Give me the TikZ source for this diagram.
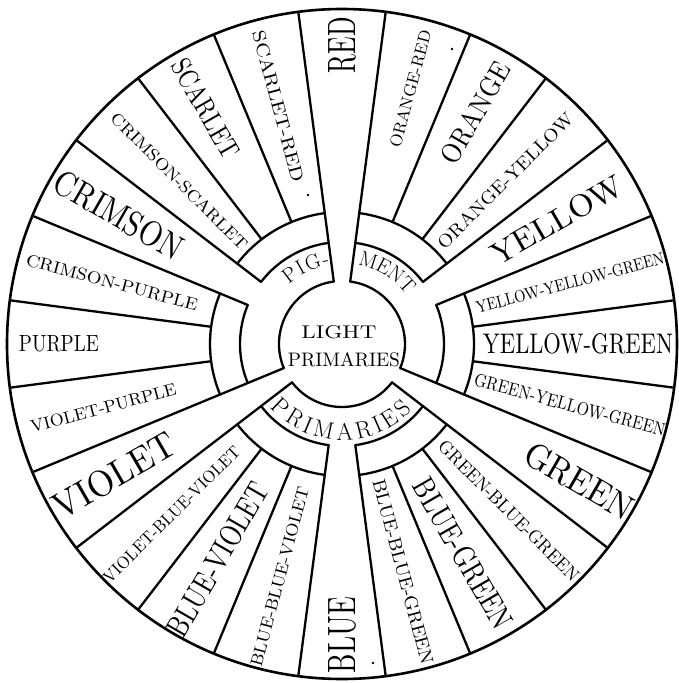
\documentclass[tikz,border=0pt]{standalone}
\usepackage{fontspec}
\usepackage{graphicx}
\newcommand{\seglabel}[7]{\node[lab, rotate=#4] (#1) at (#2:#3pt) {\resizebox{#5pt}{#6pt}{#7}};}
\begin{document}
\begin{tikzpicture}[
  ln/.style={line width=2.3pt, line cap=round, black},
  lab/.style={inner sep=0pt, anchor=center},
  lt/.style={inner sep=0pt, anchor=center, font=\fontsize{21}{21}\selectfont},
  ltb/.style={inner sep=0pt, anchor=center, font=\fontsize{24}{24}\selectfont}]
\useasboundingbox (-342pt,-339pt) rectangle (337pt,344pt);
\fill[white] (-342pt,-339pt) rectangle (337pt,344pt);
% outer circle
\draw[ln, line width=2.6pt] (0,0) circle (335pt);
% light primary wedges (red, green, violet)
\foreach \a in {82.5,97.5,322.5,337.5,202.5,217.5}
  \draw[ln] (\a:63pt) -- (\a:335pt);
% pigment primaries (yellow, blue, crimson)
\foreach \a in {22.5,37.5,262.5,277.5,142.5,157.5}
  \draw[ln] (\a:102pt) -- (\a:335pt);
% other spokes
\foreach \a in {7.5,52.5,67.5,112.5,127.5,172.5,187.5,232.5,247.5,292.5,307.5,352.5}
  \draw[ln] (\a:132pt) -- (\a:335pt);
% ring arcs
\foreach \s/\e in {97.5/142.5,157.5/202.5,217.5/262.5,277.5/322.5,337.5/382.5,37.5/82.5}{
  \draw[ln] (\s:102pt) arc[start angle=\s, end angle=\e, radius=102pt];
  \draw[ln] (\s:132pt) arc[start angle=\s, end angle=\e, radius=132pt];
}
% central circle
\foreach \s/\e in {97.5/202.5,217.5/322.5,337.5/442.5}
  \draw[ln] (\s:63pt) arc[start angle=\s, end angle=\e, radius=63pt];
% segment labels: name, angle, radius, rotation, width, height, text
\seglabel{red}{90}{299}{90}{56}{27}{RED}
\seglabel{orangered}{75}{264}{75}{121}{12}{ORANGE-RED}
\seglabel{orange}{60}{267}{60}{112}{20}{ORANGE}
\seglabel{orangeyellow}{45}{231}{45}{184}{13}{ORANGE-YELLOW}
\seglabel{yellow}{30}{248}{30}{148}{22}{YELLOW}
\seglabel{yyg}{15}{236}{15}{194}{12}{YELLOW-YELLOW-GREEN}
\seglabel{yg}{0}{236}{0}{190}{20}{YELLOW-GREEN}
\seglabel{gyg}{-15}{236}{-15}{197}{13}{GREEN-YELLOW-GREEN}
\seglabel{green}{-30}{274}{-30}{120}{25}{GREEN}
\seglabel{gbg}{-45}{236}{-45}{191}{13}{GREEN-BLUE-GREEN}
\seglabel{bg}{-60}{242}{-60}{169}{22}{BLUE-GREEN}
\seglabel{bbg}{-75}{236}{-75}{191}{13}{BLUE-BLUE-GREEN}
\seglabel{blue}{270}{291}{90}{76}{27}{BLUE}
\seglabel{bbv}{255}{241}{75}{185}{12}{BLUE-BLUE-VIOLET}
\seglabel{bv}{240}{249}{60}{173}{22}{BLUE-VIOLET}
\seglabel{vbv}{225}{241}{45}{186}{12}{VIOLET-BLUE-VIOLET}
\seglabel{violet}{210}{263}{30}{136}{26}{VIOLET}
\seglabel{vp}{195}{247}{15}{150}{12}{VIOLET-PURPLE}
\seglabel{purple}{180}{283}{0}{80}{16}{PURPLE}
\seglabel{cp}{165}{238}{-15}{177}{12}{CRIMSON-PURPLE}
\seglabel{crimson}{150}{258}{-30}{143}{25}{CRIMSON}
\seglabel{cs}{135}{230}{-45}{186}{12}{CRIMSON-SCARLET}
\seglabel{scarlet}{120}{272}{-60}{110}{20}{SCARLET}
\seglabel{sr}{105}{246}{-75}{156}{13}{SCARLET-RED}
% centre
\node[lab] (light) at (-3pt,12pt) {\resizebox{75pt}{13pt}{LIGHT}};
\node[lab] (lprim) at (2pt,-16pt) {\resizebox{112pt}{14pt}{PRIMARIES}};
% pigment primaries ring text
\foreach \ch/\ang [count=\i, evaluate=\ang as \rot using \ang-90] in {P/127.0,I/118.75,G/109.8,-/101.0}
  \node[lt, rotate=\rot] (pig\i) at (\ang:87pt) {\vphantom{P}\ch};
\foreach \ch/\ang [count=\i, evaluate=\ang as \rot using \ang-90] in {M/72.5,E/61.7,N/52.0,T/42.1}
  \node[lt, rotate=\rot] (ment\i) at (\ang:88pt) {\vphantom{P}\ch};
\foreach \ch/\ang [count=\i, evaluate=\ang as \rot using \ang+90] in {P/226.0,R/237.9,I/247.25,M/258.0,A/271.8,R/284.2,I/293.6,E/302.5,S/312.95}
  \node[ltb, rotate=\rot] (pp\i) at (\ang:88pt) {\vphantom{P}\ch};
% small dots
\fill (-34pt,149pt) circle (1.4pt);
\fill (110pt,295pt) circle (1.4pt);
\fill (31pt,-319pt) circle (1.4pt);
\end{tikzpicture}
\end{document}
